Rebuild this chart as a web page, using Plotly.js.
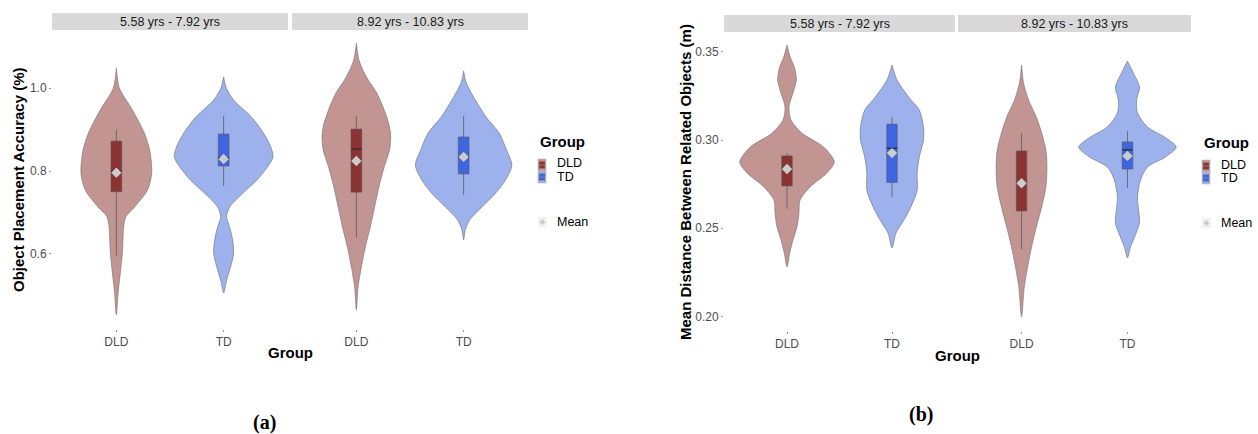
<!DOCTYPE html>
<html>
<head>
<meta charset="utf-8">
<script src="https://cdn.plot.ly/plotly-3.0.1.min.js"></script>
<style>
  html, body { margin: 0; padding: 0; background: #ffffff; }
  #chart { width: 1258px; height: 434px; }
</style>
</head>
<body>
<div id="chart"></div>
<script>
// ---- categories and labels ----
const groups = ['DLD', 'TD'];
const ageBands = ['5.58 yrs - 7.92 yrs', '8.92 yrs - 10.83 yrs'];
const accTicks = [0.6, 0.8, 1.0];
const accTickText = ['0.6', '0.8', '1.0'];
const distTicks = [0.20, 0.25, 0.30, 0.35];
const distTickText = ['0.20', '0.25', '0.30', '0.35'];

// ---- (a) object placement accuracy: violin density profiles (level, half-width) ----
const accYoungDldLevel = [1.048, 1.000, 0.947, 0.892, 0.851, 0.795, 0.754, 0.713, 0.689, 0.665, 0.602, 0.554, 0.513, 0.453];
const accYoungDldHalf  = [0, 0.028, 0.15, 0.26, 0.31, 0.33, 0.29, 0.17, 0.087, 0.068, 0.056, 0.037, 0.019, 0];
const accYoungTdLevel  = [1.027, 1.000, 0.971, 0.930, 0.892, 0.858, 0.834, 0.810, 0.778, 0.747, 0.713, 0.689, 0.665, 0.634, 0.602, 0.569, 0.537, 0.506];
const accYoungTdHalf   = [0, 0.025, 0.093, 0.26, 0.37, 0.44, 0.46, 0.41, 0.31, 0.18, 0.056, 0.028, 0.056, 0.084, 0.093, 0.065, 0.028, 0];
const accOldDldLevel   = [1.108, 1.067, 1.027, 0.988, 0.947, 0.906, 0.882, 0.851, 0.810, 0.761, 0.713, 0.665, 0.617, 0.569, 0.520, 0.465];
const accOldDldHalf    = [0, 0.025, 0.093, 0.19, 0.26, 0.31, 0.32, 0.31, 0.26, 0.21, 0.17, 0.13, 0.084, 0.047, 0.016, 0];
const accOldTdLevel    = [1.041, 1.012, 0.971, 0.930, 0.892, 0.851, 0.814, 0.778, 0.747, 0.713, 0.682, 0.658, 0.634];
const accOldTdHalf     = [0, 0.025, 0.11, 0.21, 0.33, 0.40, 0.45, 0.39, 0.30, 0.17, 0.056, 0.016, 0];

// box summaries: [lower whisker, q1, median, q3, upper whisker]
const accYoungDldBox = [0.596, 0.750, 0.800, 0.872, 0.899];
const accYoungTdBox  = [0.764, 0.812, 0.832, 0.889, 0.933];
const accOldDldBox   = [0.639, 0.749, 0.853, 0.901, 0.933];
const accOldTdBox    = [0.742, 0.793, 0.834, 0.882, 0.933];
const accMeans = [[0.796, 0.829], [0.824, 0.834]];

// ---- (b) mean distance between related objects ----
const distYoungDldLevel = [0.3538, 0.3470, 0.3413, 0.3340, 0.3266, 0.3187, 0.3113, 0.3040, 0.2960, 0.2875, 0.2813, 0.2734, 0.2660, 0.2587, 0.2507, 0.2434, 0.2360, 0.2281];
const distYoungDldHalf  = [0, 0.031, 0.070, 0.089, 0.057, 0.019, 0.038, 0.14, 0.35, 0.45, 0.38, 0.22, 0.124, 0.114, 0.095, 0.057, 0.026, 0];
const distYoungTdLevel  = [0.3425, 0.3340, 0.3243, 0.3170, 0.3074, 0.3000, 0.2904, 0.2813, 0.2717, 0.2621, 0.2547, 0.2473, 0.2388];
const distYoungTdHalf   = [0, 0.048, 0.16, 0.26, 0.30, 0.30, 0.26, 0.24, 0.24, 0.18, 0.114, 0.038, 0];
const distOldDldLevel   = [0.3425, 0.3323, 0.3226, 0.3130, 0.3040, 0.2943, 0.2847, 0.2734, 0.2621, 0.2507, 0.2394, 0.2281, 0.2168, 0.1998];
const distOldDldHalf    = [0, 0.019, 0.067, 0.14, 0.19, 0.23, 0.24, 0.23, 0.19, 0.14, 0.095, 0.057, 0.026, 0];
const distOldTdLevel    = [0.3447, 0.3379, 0.3300, 0.3226, 0.3153, 0.3074, 0.3017, 0.2960, 0.2904, 0.2847, 0.2774, 0.2677, 0.2604, 0.2530, 0.2451, 0.2394, 0.2332];
const distOldTdHalf     = [0, 0.057, 0.114, 0.086, 0.095, 0.19, 0.35, 0.46, 0.36, 0.19, 0.124, 0.095, 0.105, 0.114, 0.067, 0.029, 0];

const distYoungDldBox = [0.2610, 0.2740, 0.2840, 0.2910, 0.2925];
const distYoungTdBox  = [0.2677, 0.2760, 0.2953, 0.3090, 0.3130];
const distOldDldBox   = [0.2380, 0.2598, 0.2755, 0.2938, 0.3040];
const distOldTdBox    = [0.2728, 0.2836, 0.2944, 0.2989, 0.3050];
const distMeans = [[0.2836, 0.2926], [0.2755, 0.2910]];

// ---- styling ----
const W = 1258, H = 434;
const violinFill = { DLD: '#c29593', TD: '#9db1ec' };
const boxFill = { DLD: '#8b3333', TD: '#3e66e0' };
const outline = '#6e6e6e';
const meanColor = '#cccccc';
const FONT = 'Liberation Sans, Arial, sans-serif';
const BOX_HALF = 0.05;

const px = v => v / W;          // horizontal pixel -> paper
const py = v => 1 - v / H;      // vertical pixel -> paper

const traces = [];

function violin(xa, ya, pos, group, level, half) {
  // right edge bottom->top, then left edge top->bottom
  const xs = [], ys = [];
  for (let i = level.length - 1; i >= 0; i--) { xs.push(pos + half[i]); ys.push(level[i]); }
  for (let i = 0; i < level.length; i++) { xs.push(pos - half[i]); ys.push(level[i]); }
  traces.push({
    type: 'scatter', mode: 'lines', x: xs, y: ys, xaxis: xa, yaxis: ya,
    fill: 'toself', fillcolor: violinFill[group],
    line: { color: outline, width: 0.6, shape: 'spline', smoothing: 0.8 },
    hoverinfo: 'skip', showlegend: false
  });
}

// box-and-whisker drawn as scatter paths so it sits above the violin fill
function box(xa, ya, pos, group, s) {
  const [lo, q1, med, q3, hi] = s;
  traces.push({
    type: 'scatter', mode: 'lines', xaxis: xa, yaxis: ya,
    x: [pos, pos, null, pos, pos], y: [lo, q1, null, q3, hi],
    line: { color: '#5a5a5a', width: 0.8 }, hoverinfo: 'skip', showlegend: false
  });
  traces.push({
    type: 'scatter', mode: 'lines', xaxis: xa, yaxis: ya,
    x: [pos - BOX_HALF, pos + BOX_HALF, pos + BOX_HALF, pos - BOX_HALF, pos - BOX_HALF],
    y: [q1, q1, q3, q3, q1],
    fill: 'toself', fillcolor: boxFill[group],
    line: { color: '#555555', width: 0.6 }, hoverinfo: 'skip', showlegend: false
  });
  traces.push({
    type: 'scatter', mode: 'lines', xaxis: xa, yaxis: ya,
    x: [pos - BOX_HALF, pos + BOX_HALF], y: [med, med],
    line: { color: '#2a2a2a', width: 1.2 }, hoverinfo: 'skip', showlegend: false
  });
}

function means(xa, ya, vals) {
  traces.push({
    type: 'scatter', mode: 'markers', x: [1, 2], y: vals, xaxis: xa, yaxis: ya,
    marker: { symbol: 'diamond', size: 8, color: meanColor, line: { width: 0 } },
    hoverinfo: 'skip', showlegend: false
  });
}

// panel (a)
violin('x', 'y', 1, 'DLD', accYoungDldLevel, accYoungDldHalf);
violin('x', 'y', 2, 'TD', accYoungTdLevel, accYoungTdHalf);
violin('x2', 'y2', 1, 'DLD', accOldDldLevel, accOldDldHalf);
violin('x2', 'y2', 2, 'TD', accOldTdLevel, accOldTdHalf);
box('x', 'y', 1, 'DLD', accYoungDldBox);
box('x', 'y', 2, 'TD', accYoungTdBox);
box('x2', 'y2', 1, 'DLD', accOldDldBox);
box('x2', 'y2', 2, 'TD', accOldTdBox);
means('x', 'y', accMeans[0]);
means('x2', 'y2', accMeans[1]);

// panel (b)
violin('x3', 'y3', 1, 'DLD', distYoungDldLevel, distYoungDldHalf);
violin('x3', 'y3', 2, 'TD', distYoungTdLevel, distYoungTdHalf);
violin('x4', 'y4', 1, 'DLD', distOldDldLevel, distOldDldHalf);
violin('x4', 'y4', 2, 'TD', distOldTdLevel, distOldTdHalf);
box('x3', 'y3', 1, 'DLD', distYoungDldBox);
box('x3', 'y3', 2, 'TD', distYoungTdBox);
box('x4', 'y4', 1, 'DLD', distOldDldBox);
box('x4', 'y4', 2, 'TD', distOldTdBox);
means('x3', 'y3', distMeans[0]);
means('x4', 'y4', distMeans[1]);

// ---- axes ----
const tickFont = { family: FONT, size: 12, color: '#4d4d4d' };
function xAxis(l, r, anchor) {
  return {
    domain: [px(l), px(r)], anchor: anchor, range: [0.4, 2.6],
    tickvals: [1, 2], ticktext: groups, tickfont: tickFont,
    ticks: 'outside', ticklen: 2, tickcolor: '#999999', tickwidth: 1,
    showgrid: false, zeroline: false, showline: false, fixedrange: true
  };
}
function yAxis(top, bottom, anchor, range, tv, tt, labels) {
  return {
    domain: [py(bottom), py(top)], anchor: anchor, range: range,
    tickvals: tv, ticktext: tt, tickfont: tickFont, showticklabels: labels,
    ticks: labels ? 'outside' : '', ticklen: 2, tickcolor: '#999999', tickwidth: 1,
    showgrid: false, zeroline: false, showline: false, fixedrange: true
  };
}
const accRange = [0.419, 1.140];
const distRange = [0.1918, 0.3612];

// ---- facet strips, titles, legends ----
const shapes = [];
const annotations = [];

function strip(l, r, t, b, label) {
  shapes.push({ type: 'rect', xref: 'paper', yref: 'paper', x0: px(l), x1: px(r), y0: py(b), y1: py(t),
    fillcolor: '#d9d9d9', line: { width: 0 }, layer: 'below' });
  annotations.push({ xref: 'paper', yref: 'paper', x: px((l + r) / 2), y: py((t + b) / 2),
    text: label, showarrow: false, xanchor: 'center', yanchor: 'middle',
    font: { family: FONT, size: 12.5, color: '#1a1a1a' } });
}
strip(52, 288, 13, 30, ageBands[0]);
strip(292, 528, 13, 30, ageBands[1]);
strip(724, 955, 15, 32, ageBands[0]);
strip(958, 1191, 15, 32, ageBands[1]);

function label(x, y, text, opts) {
  annotations.push(Object.assign({ xref: 'paper', yref: 'paper', x: px(x), y: py(y), text: text,
    showarrow: false, xanchor: 'center', yanchor: 'middle' }, opts));
}
const titleFont = { family: FONT, size: 15, color: '#000000' };
label(18, 180, '<b>Object Placement Accuracy (%)</b>', { textangle: -90, font: titleFont });
label(290, 352, '<b>Group</b>', { font: titleFont });
label(685, 182, '<b>Mean Distance Between Related Objects (m)</b>', { textangle: -90, font: titleFont });
label(957, 355, '<b>Group</b>', { font: titleFont });
label(264, 422, '<b>(a)</b>', { font: { family: 'Liberation Serif, serif', size: 20, color: '#000000' } });
label(921, 414, '<b>(b)</b>', { font: { family: 'Liberation Serif, serif', size: 20, color: '#000000' } });

function legend(x0, titleY) {
  label(x0, titleY, '<b>Group</b>', { xanchor: 'left', font: titleFont });
  const keys = [['DLD', titleY + 18, titleY + 22.5], ['TD', titleY + 30, titleY + 36]];
  keys.forEach(([g, top, ty]) => {
    shapes.push({ type: 'rect', xref: 'paper', yref: 'paper', x0: px(x0), x1: px(x0 + 8), y0: py(top + 12), y1: py(top),
      fillcolor: violinFill[g], line: { color: '#bbbbbb', width: 0.6 } });
    shapes.push({ type: 'rect', xref: 'paper', yref: 'paper', x0: px(x0 + 1), x1: px(x0 + 7), y0: py(top + 9.5), y1: py(top + 2.5),
      fillcolor: boxFill[g], line: { color: '#888888', width: 0.5 } });
    shapes.push({ type: 'line', xref: 'paper', yref: 'paper', x0: px(x0 + 1), x1: px(x0 + 7), y0: py(top + 6), y1: py(top + 6),
      line: { color: '#999999', width: 0.7 } });
    label(x0 + 17, ty, g, { xanchor: 'left', font: { family: FONT, size: 12.5, color: '#000000' } });
  });
  const my = titleY + 81;
  shapes.push({ type: 'rect', xref: 'paper', yref: 'paper', x0: px(x0), x1: px(x0 + 9), y0: py(my + 5), y1: py(my - 5),
    fillcolor: '#f2f2f2', line: { width: 0 } });
  const cx = x0 + 4.5, d = 3;
  shapes.push({ type: 'path', xref: 'paper', yref: 'paper',
    path: `M ${px(cx)} ${py(my - d)} L ${px(cx + d)} ${py(my)} L ${px(cx)} ${py(my + d)} L ${px(cx - d)} ${py(my)} Z`,
    fillcolor: meanColor, line: { width: 0 } });
  label(x0 + 17, my, 'Mean', { xanchor: 'left', font: { family: FONT, size: 12.5, color: '#000000' } });
}
legend(538, 141);
legend(1202, 142);

const layout = {
  width: W, height: H, margin: { l: 0, r: 0, t: 0, b: 0 },
  paper_bgcolor: '#ffffff', plot_bgcolor: 'rgba(0,0,0,0)',
  showlegend: false, font: { family: FONT },
  xaxis: xAxis(52, 288, 'y'),
  xaxis2: xAxis(292, 528, 'y2'),
  xaxis3: xAxis(724, 955, 'y3'),
  xaxis4: xAxis(958, 1191, 'y4'),
  yaxis: yAxis(30, 329, 'x', accRange, accTicks, accTickText, true),
  yaxis2: yAxis(30, 329, 'x2', accRange, accTicks, accTickText, false),
  yaxis3: yAxis(32, 331, 'x3', distRange, distTicks, distTickText, true),
  yaxis4: yAxis(32, 331, 'x4', distRange, distTicks, distTickText, false),
  shapes: shapes, annotations: annotations
};

Plotly.newPlot('chart', traces, layout, { displayModeBar: false, staticPlot: true });
</script>
</body>
</html>
